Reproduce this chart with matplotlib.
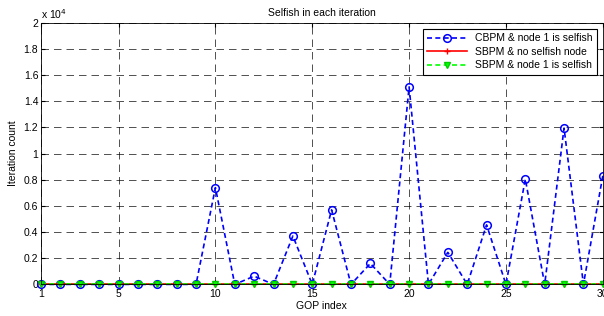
import matplotlib.pyplot as plt
from matplotlib.ticker import FuncFormatter

plt.rcParams['font.family'] = ['Liberation Sans', 'DejaVu Sans']

# GOP index 1..30
gop = list(range(1, 31))

# iteration counts
cbpm_selfish = [0, 0, 0, 0, 0, 0, 0, 0, 0, 7400,
                0, 630, 0, 3700, 0, 5700, 0, 1600, 0, 15100,
                0, 2450, 0, 4550, 0, 8050, 0, 11950, 0, 8300]
sbpm_none = [0] * 30
sbpm_selfish = [0] * 30

xtick_vals = [1, 5, 10, 15, 20, 25, 30]
ytick_vals = [0, 2000, 4000, 6000, 8000, 10000, 12000, 14000, 16000, 18000, 20000]

fig = plt.figure(figsize=(6.04, 3.16), dpi=100)
ax = fig.add_axes([0.068, 0.10, 0.93, 0.828])

ax.plot(gop, cbpm_selfish, color='b', linestyle=(0, (3, 2)), lw=1.2,
        marker='o', ms=5.5, mfc='none', mew=1.1, clip_on=False,
        label='CBPM & node 1 is selfish')
ax.plot(gop, sbpm_none, color='r', lw=1.2, marker='+', ms=5, mew=1,
        clip_on=False, label='SBPM & no selfish node')
ax.plot(gop, sbpm_selfish, color='#00ff00', linestyle=(0, (3, 2)), lw=1.2,
        marker='v', ms=4.5, mfc='#00ff00', mec='#00cc00', clip_on=False,
        label='SBPM & node 1 is selfish')

ax.set_xlim(1, 30)
ax.set_ylim(0, 20000)
ax.set_xticks(xtick_vals)
ax.set_yticks(ytick_vals)
ax.yaxis.set_major_formatter(FuncFormatter(lambda v, p: f"{v / 1e4:g}"))
ax.tick_params(direction='in', top=True, right=True, length=3, labelsize=7.5, pad=2)
ax.tick_params(axis='x', pad=3.5)
ax.grid(True, color='k', linestyle=(0, (9, 6)), lw=0.6, alpha=0.8)
for s in ax.spines.values():
    s.set_linewidth(0.6)

ax.text(0.0, 1.005, 'x 10$^{4}$', transform=ax.transAxes, fontsize=7.5,
        ha='left', va='bottom')
ax.set_title('Selfish in each iteration', fontsize=7.5, pad=5)
ax.set_xlabel('GOP index', fontsize=7.5, labelpad=1)
ax.set_ylabel('Iteration count', fontsize=7.5, labelpad=4)

leg = ax.legend(loc='upper right', fontsize=7.5, fancybox=False, edgecolor='k',
                framealpha=1, borderaxespad=0.6, handlelength=3.8,
                labelspacing=0.35, borderpad=0.4)
leg.get_frame().set_linewidth(0.8)

fig.savefig('out.png', dpi=100)
